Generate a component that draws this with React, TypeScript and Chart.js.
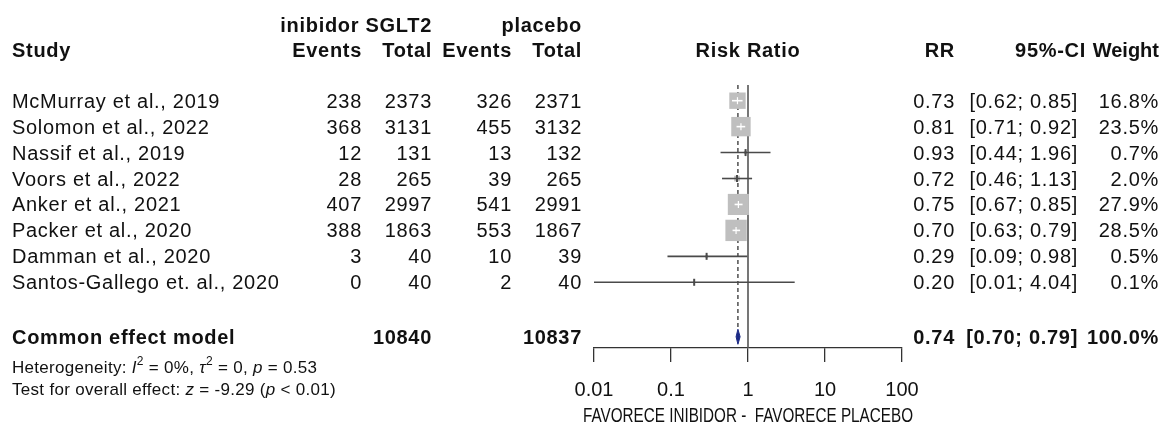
import React, { useEffect, useRef } from "react";
import { Chart, registerables } from "chart.js";

Chart.register(...registerables);

// ---------------- data ----------------
const studyNames = [
  "McMurray et al., 2019",
  "Solomon et al., 2022",
  "Nassif et al., 2019",
  "Voors et al., 2022",
  "Anker et al., 2021",
  "Packer et al., 2020",
  "Damman et al., 2020",
  "Santos-Gallego et. al., 2020",
];
const eventsSGLT2 = [238, 368, 12, 28, 407, 388, 3, 0];
const totalSGLT2 = [2373, 3131, 131, 265, 2997, 1863, 40, 40];
const eventsPlacebo = [326, 455, 13, 39, 541, 553, 10, 2];
const totalPlacebo = [2371, 3132, 132, 265, 2991, 1867, 39, 40];
const riskRatio = [0.73, 0.81, 0.93, 0.72, 0.75, 0.7, 0.29, 0.2];
const ciLower = [0.62, 0.71, 0.44, 0.46, 0.67, 0.63, 0.09, 0.01];
const ciUpper = [0.85, 0.92, 1.96, 1.13, 0.85, 0.79, 0.98, 4.04];
const weightPct = [16.8, 23.5, 0.7, 2.0, 27.9, 28.5, 0.5, 0.1];

const pooledLabel = "Common effect model";
const pooledRR = 0.74;
const pooledLower = 0.7;
const pooledUpper = 0.79;
const pooledTotalSGLT2 = 10840;
const pooledTotalPlacebo = 10837;
const pooledWeight = 100.0;

const xTickValues = [0.01, 0.1, 1, 10, 100];
const xTickLabels = ["0.01", "0.1", "1", "10", "100"];
const xAxisTitle = "FAVORECE INIBIDOR -  FAVORECE PLACEBO";

// ---------------- layout / style ----------------
const FONT = '"Liberation Sans", Arial, Helvetica, sans-serif';
const FS = 20;
const FS_SMALL = 17;
const LS = "0.7px";
const LS_SMALL = "0.3px";
const TEXT = "#111111";
const SQUARE_COLOR = "#bfbfbf";
const CI_COLOR = "#4a4a4a";
const AXIS_COLOR = "#333333";
const NAVY = "#1c2a86";
const SQUARE_SCALE = 4.0; // px per sqrt(weight %)
const TEXT_DY = 1.5;

const HEADER_ROW_1 = -1.9;
const HEADER_ROW_2 = -0.95;
const COMMON_ROW = 10.1;
const HET_ROW = 11.27;
const TEST_ROW = 12.1;
const Y_MIN = 0.395;
const Y_MAX = 10.534;
const DIAMOND_HALF = 0.29;

const COL_STUDY = 12;
const COL_EV_T = 362;
const COL_TOT_T = 432;
const COL_EV_P = 512;
const COL_TOT_P = 582;
const COL_RR = 955;
const COL_CI = 1078;
const COL_CI_HEAD = 1086;
const COL_W = 1159;
const X_AXIS_HEIGHT = 77;
const TITLE_Y = 416;
const TITLE_WIDTH = 330;

const squareSide = (i: number) => SQUARE_SCALE * Math.sqrt(weightPct[i]);

function fitsInSquare(chart: any, i: number) {
  const xs = chart.scales.x;
  if (!xs) return false;
  const c = xs.getPixelForValue(riskRatio[i]);
  const h = squareSide(i) / 2;
  return xs.getPixelForValue(ciLower[i]) >= c - h && xs.getPixelForValue(ciUpper[i]) <= c + h;
}

const fmtCI = (l: number, u: number) => `[${l.toFixed(2)}; ${u.toFixed(2)}]`;

const tablePlugin = {
  id: "forestTable",
  afterDraw(chart: any) {
    const ctx = chart.ctx as CanvasRenderingContext2D;
    const ys = chart.scales.y;
    const xs = chart.scales.x;
    ctx.save();
    (ctx as any).letterSpacing = LS;
    ctx.fillStyle = TEXT;
    ctx.textBaseline = "middle";
    const put = (t: string, px: number, row: number, align: CanvasTextAlign, bold = false) => {
      ctx.font = `${bold ? "bold " : ""}${FS}px ${FONT}`;
      ctx.textAlign = align;
      ctx.fillText(t, px, ys.getPixelForValue(row) + TEXT_DY);
    };
    // headers
    put("inibidor SGLT2", COL_TOT_T, HEADER_ROW_1, "right", true);
    put("placebo", COL_TOT_P, HEADER_ROW_1, "right", true);
    put("Study", COL_STUDY, HEADER_ROW_2, "left", true);
    put("Events", COL_EV_T, HEADER_ROW_2, "right", true);
    put("Total", COL_TOT_T, HEADER_ROW_2, "right", true);
    put("Events", COL_EV_P, HEADER_ROW_2, "right", true);
    put("Total", COL_TOT_P, HEADER_ROW_2, "right", true);
    put("Risk Ratio", xs.getPixelForValue(1), HEADER_ROW_2, "center", true);
    put("RR", COL_RR, HEADER_ROW_2, "right", true);
    put("95%-CI", COL_CI_HEAD, HEADER_ROW_2, "right", true);
    (ctx as any).letterSpacing = "0px";
    put("Weight", COL_W, HEADER_ROW_2, "right", true);
    (ctx as any).letterSpacing = LS;
    // studies
    studyNames.forEach((name, i) => {
      const r = i + 1;
      put(name, COL_STUDY, r, "left");
      put(String(eventsSGLT2[i]), COL_EV_T, r, "right");
      put(String(totalSGLT2[i]), COL_TOT_T, r, "right");
      put(String(eventsPlacebo[i]), COL_EV_P, r, "right");
      put(String(totalPlacebo[i]), COL_TOT_P, r, "right");
      put(riskRatio[i].toFixed(2), COL_RR, r, "right");
      put(fmtCI(ciLower[i], ciUpper[i]), COL_CI, r, "right");
      put(`${weightPct[i].toFixed(1)}%`, COL_W, r, "right");
    });
    // pooled
    put(pooledLabel, COL_STUDY, COMMON_ROW, "left", true);
    put(String(pooledTotalSGLT2), COL_TOT_T, COMMON_ROW, "right", true);
    put(String(pooledTotalPlacebo), COL_TOT_P, COMMON_ROW, "right", true);
    put(pooledRR.toFixed(2), COL_RR, COMMON_ROW, "right", true);
    put(fmtCI(pooledLower, pooledUpper), COL_CI, COMMON_ROW, "right", true);
    put(`${pooledWeight.toFixed(1)}%`, COL_W, COMMON_ROW, "right", true);

    // axis title (compressed to width like the reference)
    ctx.font = `${FS}px ${FONT}`;
    (ctx as any).letterSpacing = "0px";
    ctx.textAlign = "center";
    ctx.fillText(xAxisTitle, xs.getPixelForValue(1), TITLE_Y, TITLE_WIDTH);

    // rich text lines
    (ctx as any).letterSpacing = LS_SMALL;
    const rich = (segs: [string, string][], row: number) => {
      let px = COL_STUDY;
      const py = ys.getPixelForValue(row) + TEXT_DY;
      ctx.textAlign = "left";
      for (const [t, kind] of segs) {
        if (kind === "sup") ctx.font = `12px ${FONT}`;
        else if (kind === "i") ctx.font = `italic ${FS_SMALL}px ${FONT}`;
        else ctx.font = `${FS_SMALL}px ${FONT}`;
        ctx.fillText(t, px, kind === "sup" ? py - 7 : py);
        px += ctx.measureText(t).width;
      }
    };
    rich(
      [
        ["Heterogeneity: ", "n"],
        ["I", "i"],
        ["2", "sup"],
        [" = 0%, ", "n"],
        ["τ", "i"],
        ["2", "sup"],
        [" = 0, ", "n"],
        ["p", "i"],
        [" = 0.53", "n"],
      ],
      HET_ROW
    );
    rich(
      [
        ["Test for overall effect: ", "n"],
        ["z", "i"],
        [" = -9.29 (", "n"],
        ["p", "i"],
        [" < 0.01)", "n"],
      ],
      TEST_ROW
    );
    ctx.restore();
  },
};

export default function App() {
  const ref = useRef<HTMLCanvasElement>(null);
  useEffect(() => {
    const canvas = ref.current;
    if (!canvas) return;
    const datasets: any[] = [];
    // reference line at RR = 1
    datasets.push({
      type: "line",
      data: [
        { x: 1, y: Y_MIN },
        { x: 1, y: Y_MAX },
      ],
      borderColor: "#555555",
      borderWidth: 1.6,
      pointRadius: 0,
      order: 10,
    });
    // dashed pooled line
    datasets.push({
      type: "line",
      data: [
        { x: pooledRR, y: Y_MIN },
        { x: pooledRR, y: COMMON_ROW - DIAMOND_HALF },
      ],
      borderColor: "#222222",
      borderWidth: 1.2,
      borderDash: [4, 3],
      pointRadius: 0,
      order: 9,
    });
    // squares
    datasets.push({
      type: "scatter",
      data: riskRatio.map((v, i) => ({ x: v, y: i + 1 })),
      pointStyle: "rect",
      pointRadius: weightPct.map((_, i) => squareSide(i) / Math.SQRT2),
      backgroundColor: SQUARE_COLOR,
      borderWidth: 0,
      order: 8,
    });
    // confidence intervals
    riskRatio.forEach((_, i) => {
      datasets.push({
        type: "line",
        data: [
          { x: ciLower[i], y: i + 1 },
          { x: ciUpper[i], y: i + 1 },
        ],
        borderColor: (c: any) => (fitsInSquare(c.chart, i) ? "#ffffff" : CI_COLOR),
        borderWidth: 1.6,
        pointRadius: 0,
        order: 7,
      });
    });
    // point estimate ticks
    datasets.push({
      type: "scatter",
      data: riskRatio.map((v, i) => ({ x: v, y: i + 1 })),
      pointStyle: "line",
      rotation: 90,
      pointRadius: 3.5,
      borderColor: (c: any) => (fitsInSquare(c.chart, c.dataIndex) ? "#ffffff" : CI_COLOR),
      borderWidth: (c: any) => (fitsInSquare(c.chart, c.dataIndex) ? 1.2 : 2),
      order: 6,
    });
    // pooled diamond
    datasets.push({
      type: "line",
      data: [
        { x: pooledLower, y: COMMON_ROW },
        { x: pooledRR, y: COMMON_ROW - DIAMOND_HALF },
        { x: pooledUpper, y: COMMON_ROW },
        { x: pooledRR, y: COMMON_ROW + DIAMOND_HALF },
        { x: pooledLower, y: COMMON_ROW },
      ],
      borderColor: NAVY,
      backgroundColor: NAVY,
      borderWidth: 1,
      fill: "shape",
      pointRadius: 0,
      order: 1,
    });

    const chart = new Chart(canvas, {
      type: "scatter",
      data: { datasets },
      options: {
        responsive: false,
        animation: false,
        events: [],
        layout: { padding: { left: 594, right: 264, top: 85, bottom: 0 } },
        plugins: {
          legend: { display: false },
          tooltip: { enabled: false },
          title: { display: false },
        },
        scales: {
          x: {
            type: "logarithmic",
            min: 0.01,
            max: 100,
            position: "bottom",
            afterBuildTicks: (s: any) => {
              s.ticks = xTickValues.map((v) => ({ value: v }));
            },
            afterFit: (s: any) => {
              s.height = X_AXIS_HEIGHT;
            },
            ticks: {
              callback: (_v: any, idx: number) => xTickLabels[idx],
              font: { family: FONT, size: FS },
              color: TEXT,
              padding: 16,
              autoSkip: false,
              maxRotation: 0,
            },
            grid: {
              display: true,
              drawOnChartArea: false,
              drawTicks: true,
              tickLength: 14,
              color: AXIS_COLOR,
              lineWidth: 1.3,
            },
            border: { display: true, color: AXIS_COLOR, width: 1.3 },
            title: { display: false },
          },
          y: { type: "linear", reverse: true, min: Y_MIN, max: Y_MAX, display: false },
        },
      } as any,
      plugins: [tablePlugin],
    });
    return () => chart.destroy();
  }, []);
  return (
    <div style={{ position: "absolute", left: 0, top: 0, width: 1166, height: 425, background: "#ffffff" }}>
      <canvas ref={ref} width={1166} height={425} style={{ display: "block" }} />
    </div>
  );
}
